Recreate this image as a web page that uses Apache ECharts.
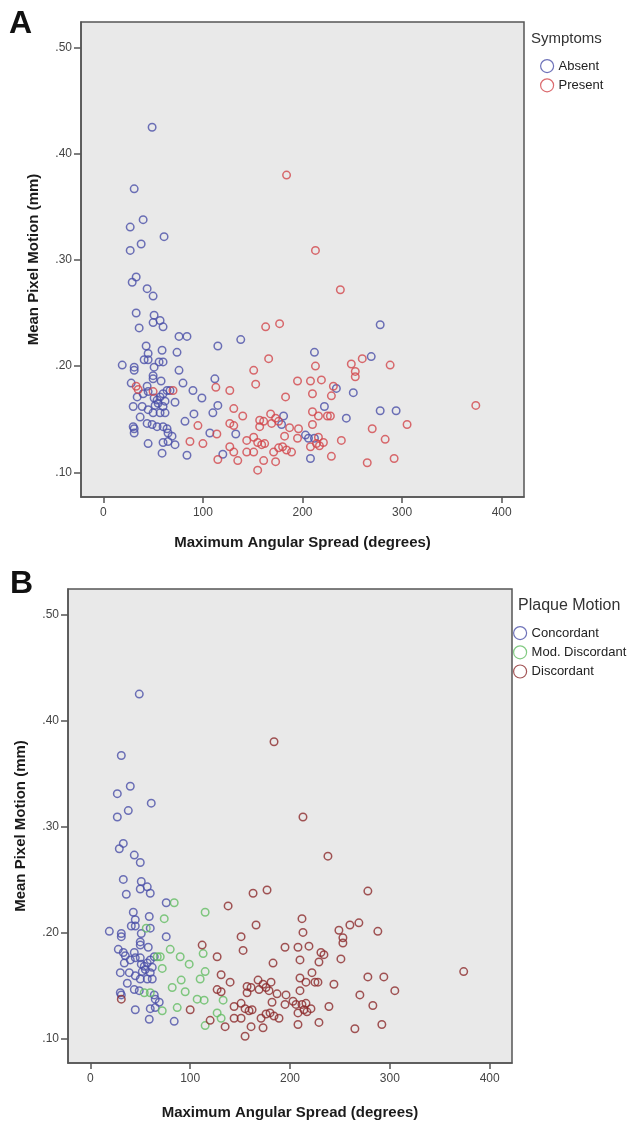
<!DOCTYPE html>
<html>
<head>
<meta charset="utf-8">
<script src="https://cdn.jsdelivr.net/npm/echarts@6/dist/echarts.min.js"></script>
<style>
  html, body { margin: 0; background: #fff; }
  #chart { width: 637px; height: 1121px; }
</style>
</head>
<body>
<div id="chart"></div>
<script>
// one entry per patient: angular spread (deg), mean pixel motion (mm)
const spread = [
  49, 184, 31, 27, 40, 38, 27, 61, 213, 33,
  29, 44, 50, 238, 33, 51, 57, 50, 60, 36,
  278, 163, 177, 76, 84, 115, 138, 43, 45, 59,
  74, 212, 166, 41, 45, 56, 60, 19, 31, 31,
  51, 76, 151, 213, 269, 260, 249, 253, 253, 288,
  50, 50, 58, 28, 80, 112, 153, 195, 208, 219,
  44, 33, 35, 50, 70, 64, 67, 90, 113, 127,
  99, 72, 115, 183, 210, 231, 234, 229, 251, 222,
  131, 110, 91, 82, 95, 140, 127, 131, 107, 114,
  133, 87, 100, 127, 131, 115, 120, 135, 84, 34,
  40, 45, 51, 54, 57, 60, 55, 52, 62, 60,
  30, 39, 45, 37, 50, 57, 62, 44, 49, 54,
  60, 64, 30, 31, 31, 65, 69, 72, 45, 60,
  65, 59, 144, 144, 151, 155, 161, 173, 157, 161,
  157, 151, 155, 159, 162, 168, 173, 169, 176, 179,
  181, 187, 196, 182, 171, 176, 180, 184, 189, 195,
  203, 206, 212, 210, 210, 208, 214, 216, 225, 217,
  221, 208, 229, 265, 292, 239, 283, 270, 305, 374,
  278, 294, 244, 228, 216
];
const motion = [
  .425, .380, .367, .331, .338, .315, .309, .322, .309, .284,
  .279, .273, .266, .272, .250, .248, .243, .241, .237, .236,
  .239, .237, .240, .228, .228, .219, .225, .219, .212, .215,
  .213, .213, .207, .206, .206, .204, .204, .201, .199, .196,
  .199, .196, .196, .200, .209, .207, .202, .195, .190, .201,
  .191, .188, .186, .184, .184, .188, .183, .186, .186, .187,
  .181, .181, .178, .176, .177, .177, .177, .177, .180, .177,
  .170, .166, .163, .171, .174, .181, .179, .172, .175, .162,
  .160, .156, .155, .148, .144, .153, .146, .144, .137, .136,
  .136, .129, .127, .124, .119, .112, .117, .111, .116, .171,
  .174, .176, .170, .168, .171, .174, .165, .163, .167, .162,
  .162, .162, .159, .152, .156, .156, .156, .146, .145, .143,
  .143, .141, .143, .141, .137, .137, .134, .126, .127, .128,
  .129, .118, .130, .119, .119, .102, .111, .110, .149, .148,
  .143, .133, .128, .126, .127, .155, .151, .146, .148, .145,
  .153, .142, .141, .134, .119, .123, .124, .121, .119, .132,
  .135, .132, .132, .145, .157, .124, .127, .153, .153, .125,
  .128, .113, .115, .109, .113, .130, .131, .141, .145, .163,
  .158, .158, .151, .153, .133
];
// index into symptomNames
const symptom = [
  0, 1, 0, 0, 0, 0, 0, 0, 1, 0,
  0, 0, 0, 1, 0, 0, 0, 0, 0, 0,
  0, 1, 1, 0, 0, 0, 0, 0, 0, 0,
  0, 0, 1, 0, 0, 0, 0, 0, 0, 0,
  0, 0, 1, 1, 0, 1, 1, 1, 1, 1,
  0, 0, 0, 0, 0, 0, 1, 1, 1, 1,
  0, 1, 1, 1, 1, 0, 0, 0, 1, 1,
  0, 0, 0, 1, 1, 1, 0, 1, 0, 0,
  1, 0, 0, 0, 1, 1, 1, 1, 0, 1,
  0, 1, 1, 1, 1, 1, 0, 1, 0, 0,
  0, 0, 0, 0, 0, 0, 0, 0, 0, 0,
  0, 0, 0, 0, 0, 0, 0, 0, 0, 0,
  0, 0, 0, 0, 0, 0, 0, 0, 0, 0,
  0, 0, 1, 1, 1, 1, 1, 1, 1, 1,
  1, 1, 1, 1, 1, 1, 1, 1, 1, 0,
  0, 1, 1, 1, 1, 1, 1, 1, 1, 1,
  0, 0, 0, 1, 1, 1, 1, 1, 1, 1,
  1, 0, 1, 1, 1, 1, 1, 1, 1, 1,
  0, 0, 0, 1, 1
];
// index into plaqueNames
const plaque = [
  0, 2, 0, 0, 0, 0, 0, 0, 2, 0,
  0, 0, 0, 2, 0, 0, 0, 0, 0, 0,
  2, 2, 2, 0, 1, 1, 2, 0, 0, 0,
  1, 2, 2, 0, 0, 1, 0, 0, 0, 0,
  0, 0, 2, 2, 2, 2, 2, 2, 2, 2,
  0, 0, 0, 0, 1, 2, 2, 2, 2, 2,
  0, 0, 0, 0, 1, 0, 1, 1, 1, 2,
  1, 1, 1, 2, 2, 2, 2, 2, 2, 2,
  2, 1, 1, 1, 1, 2, 2, 2, 1, 1,
  1, 1, 2, 1, 1, 1, 2, 2, 0, 0,
  0, 0, 0, 0, 0, 0, 0, 0, 0, 0,
  0, 0, 0, 0, 0, 0, 0, 0, 0, 1,
  1, 0, 0, 0, 2, 0, 0, 1, 0, 0,
  0, 0, 2, 2, 2, 2, 2, 2, 2, 2,
  2, 2, 2, 2, 2, 2, 2, 2, 2, 2,
  2, 2, 2, 2, 2, 2, 2, 2, 2, 2,
  2, 2, 2, 2, 2, 2, 2, 2, 2, 2,
  2, 2, 2, 2, 2, 2, 2, 2, 2, 2,
  2, 2, 2, 2, 2
];

const symptomNames = ['Absent', 'Present'];
const plaqueNames = ['Concordant', 'Mod. Discordant', 'Discordant'];
const xTicks = [0, 100, 200, 300, 400];
const yTicks = [0.10, 0.20, 0.30, 0.40, 0.50];

const symptomColors = ['#4a4fa8', '#d2464b'];
const plaqueColors = ['#4a4fa8', '#63bd63', '#8c2a2c'];
const FONT = '"Liberation Sans", Arial, sans-serif';

const chart = echarts.init(document.getElementById('chart'), null, { renderer: 'canvas' });

function pointsWhere(codes, k) {
  const out = [];
  spread.forEach((x, i) => { if (codes[i] === k) out.push([x, motion[i]]); });
  return out;
}

function xAxisFor(gi, gap) {
  return {
    gridIndex: gi, type: 'value', min: -22.4, max: 422.4,
    name: 'Maximum Angular Spread (degrees)', nameLocation: 'middle', nameGap: gap,
    nameTextStyle: { fontFamily: FONT, fontWeight: 'bold', fontSize: 15, color: '#1b1b1b' },
    axisLine: { show: true, onZero: false, lineStyle: { color: '#555', width: 1.5 } },
    axisTick: { show: true, length: 6, customValues: xTicks, lineStyle: { color: '#555', width: 1.5 } },
    axisLabel: { customValues: xTicks, margin: 10, color: '#444', fontSize: 12, fontFamily: FONT },
    splitLine: { show: false }
  };
}

function yAxisFor(gi) {
  return {
    gridIndex: gi, type: 'value', min: 0.0767, max: 0.5242,
    name: 'Mean Pixel Motion (mm)', nameLocation: 'middle', nameGap: 40,
    nameTextStyle: { fontFamily: FONT, fontWeight: 'bold', fontSize: 15, color: '#1b1b1b' },
    axisLine: { show: true, onZero: false, lineStyle: { color: '#555', width: 1.5 } },
    axisTick: { show: true, length: 7, customValues: yTicks, lineStyle: { color: '#555', width: 1.5 } },
    axisLabel: {
      customValues: yTicks, margin: 9, color: '#444', fontSize: 12, fontFamily: FONT,
      formatter: v => v.toFixed(2).replace(/^0/, '')
    },
    splitLine: { show: false }
  };
}

function scatter(name, gi, data, color) {
  return {
    name, type: 'scatter', xAxisIndex: gi, yAxisIndex: gi, data,
    symbol: 'circle', symbolSize: 7.5,
    itemStyle: { color: 'rgba(0,0,0,0)', borderColor: color, borderWidth: 1.5 },
    emphasis: { disabled: true }
  };
}

const series = [];
symptomNames.forEach((n, k) => series.push(scatter(n, 0, pointsWhere(symptom, k), symptomColors[k])));
plaqueNames.forEach((n, k) => series.push(scatter(n, 1, pointsWhere(plaque, k), plaqueColors[k])));

const gridStyle = { show: true, backgroundColor: '#e9e9e9', borderColor: '#555', borderWidth: 1.5 };
const legendIcon = { borderWidth: 1.2 };

const option = {
  animation: false,
  textStyle: { fontFamily: FONT },
  title: [
    { text: 'A', left: 9, top: 8, padding: 0, textStyle: { fontSize: 32, fontWeight: 'bold', color: '#111', fontFamily: FONT } },
    { text: 'B', left: 10, top: 568, padding: 0, textStyle: { fontSize: 32, fontWeight: 'bold', color: '#111', fontFamily: FONT } },
    { text: 'Symptoms', left: 531, top: 31, padding: 0, textStyle: { fontSize: 15, fontWeight: 'normal', color: '#333', fontFamily: FONT } },
    { text: 'Plaque Motion', left: 518, top: 598, padding: 0, textStyle: { fontSize: 16, fontWeight: 'normal', color: '#333', fontFamily: FONT } }
  ],
  legend: [
    {
      data: symptomNames, orient: 'vertical', left: 540, top: 59, padding: 0,
      itemWidth: 13, itemHeight: 13, itemGap: 5, icon: 'circle', itemStyle: legendIcon,
      textStyle: { fontSize: 13, color: '#222', fontFamily: FONT }
    },
    {
      data: plaqueNames, orient: 'vertical', left: 513, top: 626, padding: 0,
      itemWidth: 13, itemHeight: 13, itemGap: 5, icon: 'circle', itemStyle: legendIcon,
      textStyle: { fontSize: 13, color: '#222', fontFamily: FONT }
    }
  ],
  grid: [
    Object.assign({ left: 81, top: 22, width: 443, height: 475 }, gridStyle),
    Object.assign({ left: 68, top: 589, width: 444, height: 476 }, gridStyle)
  ],
  xAxis: [xAxisFor(0, 38), xAxisFor(1, 42)],
  yAxis: [yAxisFor(0), yAxisFor(1)],
  series
};

chart.setOption(option);
</script>
</body>
</html>
